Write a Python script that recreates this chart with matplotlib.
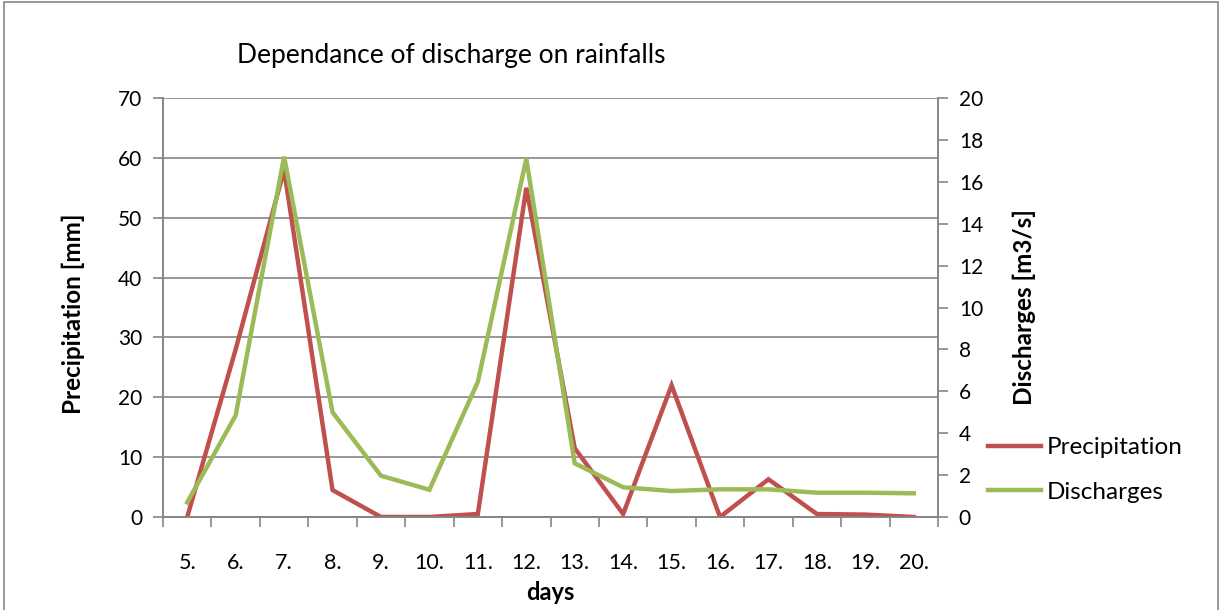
import matplotlib as mpl
mpl.use('Agg')
from matplotlib import pyplot as plt
from matplotlib.patches import Rectangle
from matplotlib.lines import Line2D

plt.rcParams['font.family'] = ['Lato', 'DejaVu Sans']

## data
days = ['5.', '6.', '7.', '8.', '9.', '10.', '11.', '12.',
        '13.', '14.', '15.', '16.', '17.', '18.', '19.', '20.']
precipitation = [0, 28, 58, 4.5, 0, 0, 0.5, 55,
                 11.5, 0.5, 22, 0, 6.3, 0.5, 0.4, 0]
discharges = [0.7, 4.85, 17.2, 5.0, 1.97, 1.3, 6.45, 17.1,
              2.56, 1.42, 1.24, 1.32, 1.32, 1.16, 1.16, 1.13]

red = '#C0504D'
green = '#9BBB59'
grey = '#868686'

fig = plt.figure(figsize=(12.2, 6.1), dpi=100)
W, H = 1220, 610

# chart area border
fig.patches.append(Rectangle((3.5 / W, -0.05), (1218 - 3.5) / W, 1.05 - 2.5 / H,
                             transform=fig.transFigure, fill=False,
                             edgecolor=grey, lw=1.2))

ax = fig.add_axes([163 / W, 1 - 517 / H, (938 - 163) / W, (517 - 98) / H])
ax2 = ax.twinx()

x = list(range(len(days)))
ax.plot(x, precipitation, color=red, lw=3.2, solid_joinstyle='miter', zorder=3)
ax2.plot(x, discharges, color=green, lw=3.2, solid_joinstyle='miter', zorder=3)

ax.set_xlim(-0.5, len(days) - 0.5)
ax.set_ylim(0, 70)
ax2.set_ylim(0, 20)
ax.set_yticks(range(0, 71, 10))
ax2.set_yticks(range(0, 21, 2))

# category ticks at boundaries, labels at centres
ax.set_xticks([i - 0.5 for i in range(len(days) + 1)])
ax.set_xticklabels([])
ax.set_xticks(x, minor=True)
ax.set_xticklabels(days, minor=True, fontsize=15.5)
ax.tick_params(axis='x', which='major', length=7, width=1.2, color=grey, direction='out')
ax.tick_params(axis='x', which='minor', length=0, pad=26)
ax.tick_params(axis='y', length=7, width=1.2, color=grey, labelsize=15, pad=8)
ax2.tick_params(axis='y', length=7, width=1.2, color=grey, labelsize=15, pad=8)

ax.grid(axis='y', color=grey, lw=1.2)
ax.set_axisbelow(True)
for a in (ax, ax2):
    a.spines['top'].set_visible(False)
    for s in ('left', 'right', 'bottom'):
        a.spines[s].set_color(grey)
        a.spines[s].set_linewidth(1.2)

ax.set_ylabel('Precipitation [mm]', fontsize=17.5, fontweight='bold', va='center')
ax.yaxis.set_label_coords((73 - 163) / 775, (517 - 314) / 419)
ax2.set_ylabel('Discharges [m3/s]', fontsize=17.5, fontweight='bold', va='center')
ax2.yaxis.set_label_coords((1024 - 163) / 775, (517 - 307) / 419)
ax.set_xlabel('days', fontsize=17, fontweight='bold', va='center')
ax.xaxis.set_label_coords((550 - 163) / 775, (517 - 593) / 419)

fig.text(451 / W, 1 - 55 / H, 'Dependance of discharge on rainfalls',
         fontsize=19, ha='center', va='center')

handles = [Line2D([], [], color=red, lw=3.2), Line2D([], [], color=green, lw=3.2)]
fig.legend(handles, ['Precipitation', 'Discharges'], loc='center left',
           bbox_to_anchor=(988 / W, 1 - 470 / H), frameon=False, fontsize=17.5,
           handlelength=2.2, handletextpad=0.2, labelspacing=0.95,
           borderaxespad=0, borderpad=0)

fig.savefig('out.png', dpi=100)
